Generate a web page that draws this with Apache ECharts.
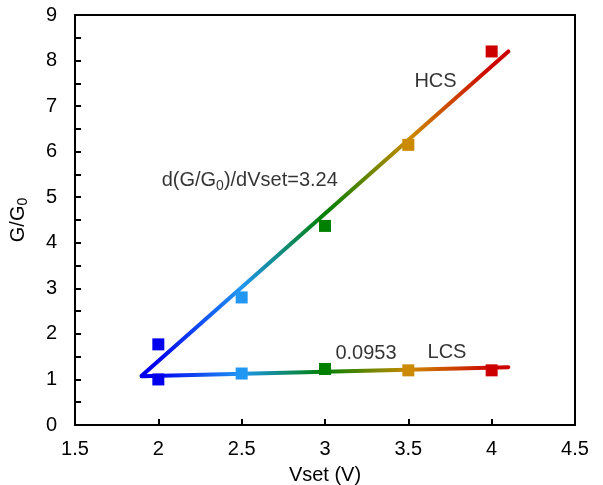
<!DOCTYPE html>
<html>
<head>
<meta charset="utf-8">
<script src="https://cdn.jsdelivr.net/npm/echarts@6/dist/echarts.min.js"></script>
<style>
html,body{margin:0;padding:0;background:#fff}
#chart{width:603px;height:485px}
</style>
</head>
<body>
<div id="chart"></div>
<script>
// measured points
const vset = [2, 2.5, 3, 3.5, 4]
const hcs = [1.77, 2.8, 4.37, 6.15, 8.2]
const lcs = [1.0, 1.13, 1.23, 1.2, 1.2]
const pointColors = ['#0000ee', '#2196f3', '#008000', '#cc8a00', '#cc0000']

// linear fits, end points
const fitX = [1.9, 4.1]
const hcsFit = [1.08, 8.2]
const lcsFit = [1.07, 1.27]

// text labels placed at data coords
const notes = [
  {text: 'HCS', x: 3.663, y: 7.53, align: 'center'},
  {text: 'd(G/G{sub|0})/dVset=3.24', x: 2.02, y: 5.36, align: 'left'},
  {text: '0.0953', x: 3.246, y: 1.56, align: 'center'},
  {text: 'LCS', x: 3.732, y: 1.59, align: 'center'}
]

const font = 'Liberation Sans, Arial, sans-serif'
const subStyle = {fontFamily: font, fontSize: 14, color: '#000', padding: [10, 0, 0, 0]}

// gradient along the fit line, one stop per measured x
const stops = vset.map((v, i) => ({
  offset: (v - fitX[0]) / (fitX[1] - fitX[0]),
  color: pointColors[i]
}))
const grad = new echarts.graphic.LinearGradient(0, 0, 1, 0, stops)

const chart = echarts.init(document.getElementById('chart'))

const fitLine = (name, ys) => ({
  name: name,
  type: 'line',
  data: fitX.map((x, i) => [x, ys[i]]),
  symbol: 'none',
  lineStyle: {width: 4, color: grad, cap: 'round'},
  z: 2
})

const points = (name, ys) => ({
  name: name,
  type: 'scatter',
  symbol: 'rect',
  symbolSize: 12,
  data: vset.map((x, i) => ({value: [x, ys[i]], itemStyle: {color: pointColors[i], opacity: 1}})),
  z: 3
})

const option = {
  animation: false,
  grid: {
    left: 75, right: 28, top: 15, bottom: 60,
    outerBoundsMode: 'none', containLabel: false,
    show: true, borderColor: '#000', borderWidth: 2
  },
  xAxis: {
    type: 'value',
    min: 1.5, max: 4.5, interval: 0.5,
    name: 'Vset (V)',
    nameLocation: 'middle',
    nameGap: 40,
    nameTextStyle: {fontFamily: font, fontSize: 20, color: '#000'},
    axisLine: {lineStyle: {color: '#000', width: 2}},
    axisTick: {inside: true, length: 6, lineStyle: {color: '#000', width: 2}},
    axisLabel: {fontFamily: font, fontSize: 20, color: '#000', margin: 14},
    splitLine: {show: false}
  },
  yAxis: {
    type: 'value',
    min: 0, max: 9, interval: 1,
    name: 'G/G{sub|0}',
    nameLocation: 'middle',
    nameGap: 45,
    nameRotate: 90,
    nameTextStyle: {fontFamily: font, fontSize: 20, color: '#000', rich: {sub: subStyle}},
    axisLine: {lineStyle: {color: '#000', width: 2}},
    axisTick: {inside: true, length: 6, lineStyle: {color: '#000', width: 2}},
    minorTick: {show: true, splitNumber: 2, length: 6, lineStyle: {color: '#000', width: 2}},
    axisLabel: {fontFamily: font, fontSize: 20, color: '#000', margin: 18},
    splitLine: {show: false}
  },
  series: [
    fitLine('HCS fit', hcsFit),
    fitLine('LCS fit', lcsFit),
    points('HCS', hcs),
    points('LCS', lcs),
    {
      type: 'scatter',
      symbolSize: 0,
      silent: true,
      data: notes.map(n => ({
        value: [n.x, n.y],
        label: {
          show: true, position: 'inside', formatter: n.text, align: n.align,
          fontFamily: font, fontSize: 20, color: '#000',
          rich: {sub: subStyle}
        }
      })),
      z: 4
    }
  ]
}

chart.setOption(option)
</script>
</body>
</html>
